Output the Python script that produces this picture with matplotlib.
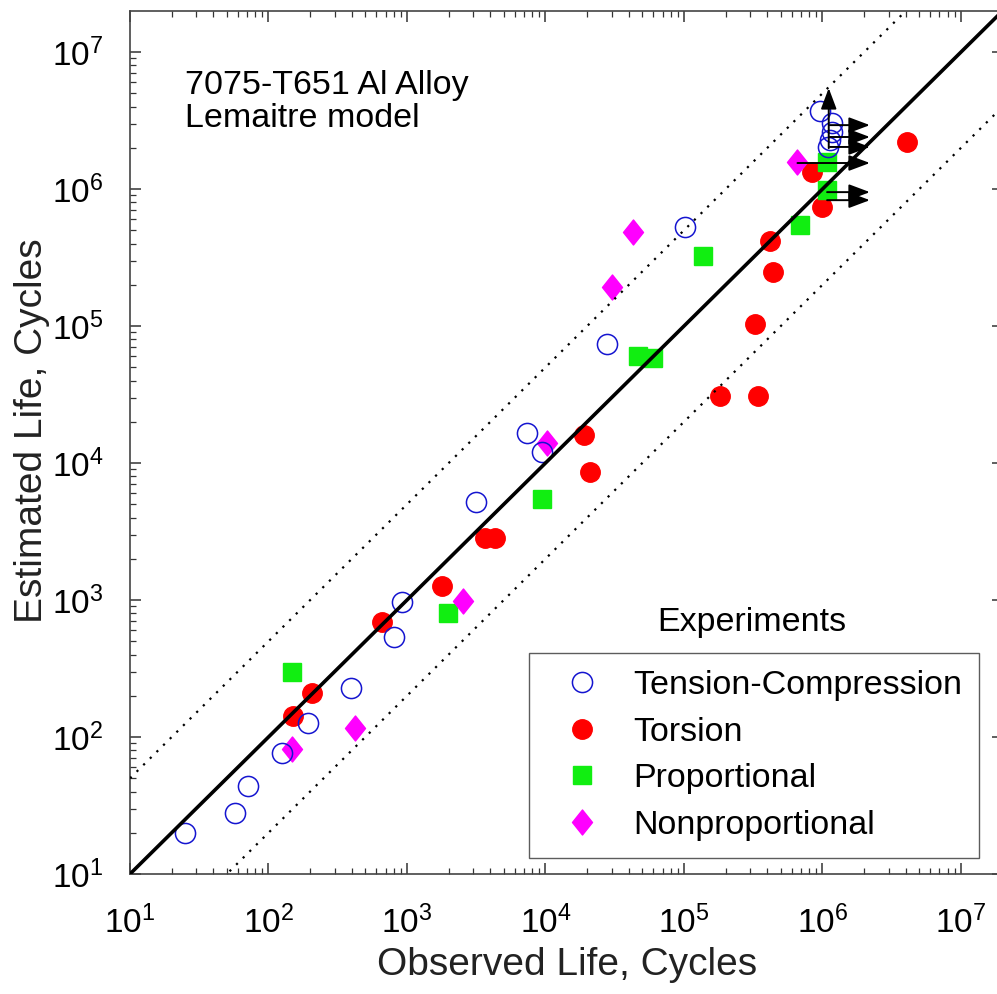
import numpy as np
import matplotlib
matplotlib.use("Agg")
import matplotlib.pyplot as plt
from matplotlib.path import Path

plt.rcParams['font.family'] = ['Liberation Sans', 'DejaVu Sans']
plt.rcParams['mathtext.fontset'] = 'custom'
plt.rcParams['mathtext.rm'] = 'Liberation Sans'
plt.rcParams['mathtext.it'] = 'Liberation Sans'
plt.rcParams['mathtext.default'] = 'regular'

# observed / estimated lives
tc_obs = [25, 57, 71, 125, 193, 394, 805, 920, 3150, 7340, 9440, 27800, 1.02e5,
          9.6e5, 1.17e6, 1.17e6, 1.13e6, 1.10e6]
tc_est = [20, 28, 44, 76, 126, 228, 537, 966, 5190, 16600, 12000, 74000, 5.28e5,
          3.7e6, 3.03e6, 2.61e6, 2.28e6, 2.03e6]

tor_obs = [150, 206, 659, 1790, 3660, 4320, 19000, 21000, 1.82e5, 3.42e5, 3.26e5,
           4.2e5, 4.4e5, 8.4e5, 1.0e6, 4.07e6]
tor_est = [142, 209, 690, 1265, 2840, 2840, 16000, 8600, 30800, 30800, 1.03e5,
           4.2e5, 2.48e5, 1.33e6, 7.4e5, 2.2e6]

prop_obs = [148, 1980, 9440, 46500, 59700, 1.37e5, 6.9e5, 1.08e6, 1.08e6]
prop_est = [298, 803, 5460, 60400, 58400, 3.24e5, 5.46e5, 1.57e6, 9.8e5]

nonp_obs = [148, 422, 2540, 10300, 30200, 42800, 6.55e5]
nonp_est = [81.7, 116, 984, 14000, 1.93e5, 4.85e5, 1.57e6]

# run-out arrows (tail x, y, tip x)
run_x0 = [1.13e6, 1.13e6, 1.13e6, 6.6e5, 1.08e6, 1.08e6]
run_y = [2.93e6, 2.40e6, 2.03e6, 1.55e6, 9.5e5, 8.3e5]
run_x1 = 2.2e6
up_x, up_y0, up_y1 = 1.11e6, 1.99e6, 5.46e6

band = 5.0
lims = (10, 10**7.3)

fig = plt.figure(figsize=(9.97, 9.94), dpi=100)
ax = fig.add_axes([130/997, 1-874/994, 872.5/997, 863/994])
ax.set_xscale('log')
ax.set_yscale('log')
ax.set_xlim(lims)
ax.set_ylim(lims)

xx = np.array(lims)
ax.plot(xx, xx, color='k', lw=2.6, zorder=5)
ax.plot(xx, xx*band, color='k', lw=1.6, ls=(0, (1, 3.2)), zorder=5)
ax.plot(xx, xx/band, color='k', lw=1.6, ls=(0, (1, 3.2)), zorder=5)

diamond = Path([(0, 1), (0.8, 0), (0, -1), (-0.8, 0), (0, 1)],
               [Path.MOVETO, Path.LINETO, Path.LINETO, Path.LINETO, Path.CLOSEPOLY])

h1, = ax.plot(tc_obs, tc_est, 'o', ms=14.5, mfc='none', mec='#1515d0', mew=1.1,
              label='Tension-Compression', zorder=4)
h2, = ax.plot(tor_obs, tor_est, 'o', ms=14, mfc='#ff0000', mec='#ff0000',
              label='Torsion', zorder=3)
h3, = ax.plot(prop_obs, prop_est, 's', ms=12.5, mfc='#11ee11', mec='#11ee11',
              label='Proportional', zorder=3)
h4, = ax.plot(nonp_obs, nonp_est, marker=diamond, ls='none', ms=18, mfc='#ff00ff',
              mec='#ff00ff', label='Nonproportional', zorder=3)

arr = dict(arrowstyle='-|>,head_length=0.8,head_width=0.3', color='k', lw=1.4,
           mutation_scale=16, shrinkA=0, shrinkB=0)
for x0, y in zip(run_x0, run_y):
    ax.annotate('', xy=(run_x1, y), xytext=(x0, y), arrowprops=arr, zorder=6)
ax.annotate('', xy=(up_x, up_y1), xytext=(up_x, up_y0), arrowprops=arr, zorder=6)

ax.tick_params(which='both', direction='in', top=True, right=True,
               labelsize=24, color='#333333')
ax.tick_params(which='major', length=8, width=1.1)
ax.tick_params(which='minor', length=4.5, width=0.9)
ax.tick_params(axis='x', pad=23)
ax.tick_params(axis='y', pad=19)
for s in ax.spines.values():
    s.set_color('#444444')
    s.set_linewidth(1.2)

ax.set_xlabel('Observed Life, Cycles', fontsize=28, color='#222222')
ax.xaxis.label.set_va('center')
ax.xaxis.set_label_coords(0.501, -0.1050)
ax.set_ylabel('Estimated Life, Cycles', fontsize=28, color='#222222')
ax.yaxis.label.set_va('center')
ax.yaxis.set_label_coords(-0.1120, 0.514)

fig.text(185/997, 1-94/994, '7075-T651 Al Alloy', fontsize=24.5, va='baseline')
fig.text(185/997, 1-127/994, 'Lemaitre model', fontsize=24.5, va='baseline')
fig.text(752/997, 1-622/994, 'Experiments', fontsize=24.5, ha='center', va='center')

leg = ax.legend(handles=[h1, h2, h3, h4], loc='upper left',
                bbox_to_anchor=(529/997, 1-653/994), bbox_transform=fig.transFigure,
                fontsize=24.5, frameon=True, fancybox=False, borderpad=0.5,
                handlelength=2.1, handletextpad=0.45, labelspacing=0.46,
                borderaxespad=0)
leg.get_frame().set_edgecolor('#333333')
leg.get_frame().set_linewidth(1.0)

fig.savefig('out.png', dpi=100)
